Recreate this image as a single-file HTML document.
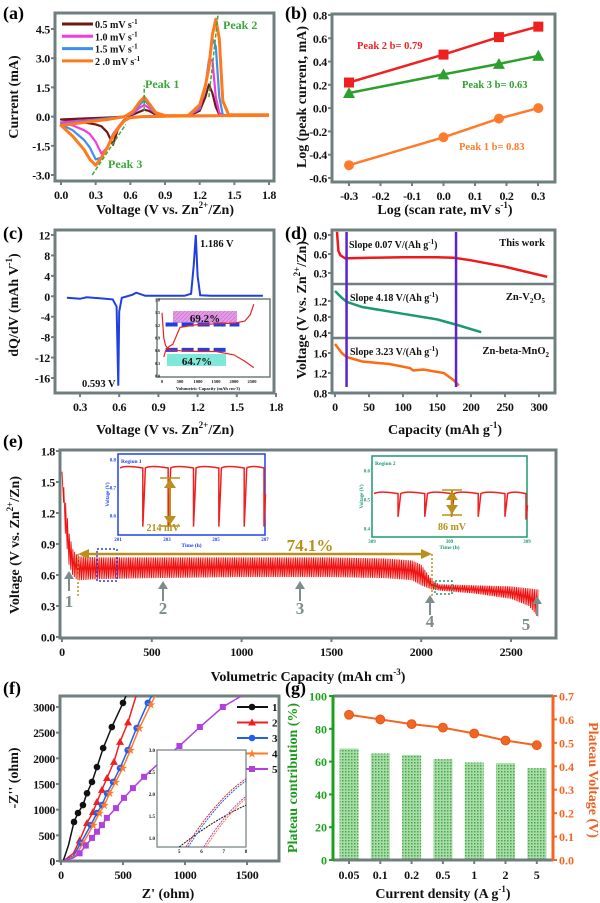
<!DOCTYPE html>
<html><head><meta charset="utf-8">
<style>
html,body{margin:0;padding:0;background:#fff;}
svg{display:block;font-family:"Liberation Serif",serif;font-weight:bold;}
</style></head>
<body>
<svg id="fig" width="600" height="903" viewBox="0 0 600 903" xmlns="http://www.w3.org/2000/svg">
<defs>
<pattern id="hatch" width="3" height="3" patternUnits="userSpaceOnUse"><rect width="3" height="3" fill="#a8dca8"/><rect width="1.5" height="1.5" fill="#4aa84a"/></pattern>
<pattern id="pinkh" width="4" height="4" patternUnits="userSpaceOnUse"><rect width="4" height="4" fill="#e59ae8"/><path d="M0 4L4 0" stroke="#c070c8" stroke-width="0.6"/></pattern>
<clipPath id="fclip"><rect x="60" y="696" width="219" height="165"/></clipPath>
</defs>
<g font-size="18">
<text x="3" y="19">(a)</text>
<text x="285" y="19">(b)</text>
<text x="3" y="239">(c)</text>
<text x="285" y="239">(d)</text>
<text x="3" y="447">(e)</text>
<text x="3" y="694">(f)</text>
<text x="285" y="694">(g)</text>
</g>
<g font-size="14" text-anchor="middle" fill="#111">
<text transform="translate(18,97) rotate(-90)">Current (mA)</text>
<text x="165" y="214">Voltage (V vs. Zn<tspan dy="-6" font-size="9">2+</tspan><tspan dy="6">/Zn)</tspan></text>
<text transform="translate(306,97) rotate(-90)">Log (peak current, mA)</text>
<text x="445" y="214">Log (scan rate, mV s<tspan dy="-6" font-size="9">-1</tspan><tspan dy="6">)</tspan></text>
<text transform="translate(18,305) rotate(-90)">dQ/dV (mAh V<tspan dy="-6" font-size="9">-1</tspan><tspan dy="6">)</tspan></text>
<text x="165" y="434">Voltage (V vs. Zn<tspan dy="-6" font-size="9">2+</tspan><tspan dy="6">/Zn)</tspan></text>
<text transform="translate(306,310) rotate(-90)">Voltage (V vs. Zn<tspan dy="-6" font-size="9">2+</tspan><tspan dy="6">/Zn)</tspan></text>
<text x="445" y="434">Capacity (mAh g<tspan dy="-6" font-size="9">-1</tspan><tspan dy="6">)</tspan></text>
<text transform="translate(19,545) rotate(-90)">Voltage (V vs. Zn<tspan dy="-6" font-size="9">2+</tspan><tspan dy="6">/Zn)</tspan></text>
<text x="308" y="681">Volumetric Capacity (mAh cm<tspan dy="-6" font-size="9">-3</tspan><tspan dy="6">)</tspan></text>
<text transform="translate(18,778) rotate(-90)">-Z'' (ohm)</text>
<text x="168" y="898">Z' (ohm)</text>
<text transform="translate(297,778) rotate(-90)" fill="#1a9a1a">Plateau contribution (%)</text>
<text transform="translate(589,780) rotate(90)" fill="#f06020">Plateau Voltage (V)</text>
<text x="443" y="898">Current density (A g<tspan dy="-6" font-size="9">-1</tspan><tspan dy="6">)</tspan></text>
</g>
</svg>
<script>
// ---------- DATA ----------
const cvVolt = [1.8,1.2,0.7,0.6,0.55,0.5,0.45,0.4,0.35,0.3,0.25,0.2,0.1,0.0, 0.0,0.2,0.4,0.55,0.62,0.68,0.72,0.76,0.82,0.9,1.1,1.2,1.25,1.28,1.31,1.34,1.37,1.4,1.45,1.8];
const cv05 = [0.05,0.03,0,-0.05,-0.15,-0.5,-1.45,-0.8,-0.5,-0.4,-0.35,-0.3,-0.2,-0.15, -0.15,-0.1,-0.05,0,0.1,0.25,0.35,0.3,0.1,0.03,0.02,0.3,1.0,1.65,1.2,0.5,0.1,0.05,0.05,0.05];
const cv10 = [0.05,0.03,0,-0.05,-0.2,-0.5,-0.9,-1.6,-1.9,-1.3,-0.9,-0.7,-0.45,-0.3, -0.3,-0.2,-0.1,0,0.15,0.45,0.6,0.45,0.15,0.03,0.03,0.4,1.5,2.9,2.9,1.0,0.2,0.05,0.05,0.05];
const cv15 = [0.05,0.03,0,-0.05,-0.2,-0.6,-1.0,-1.6,-2.1,-2.2,-1.6,-1.2,-0.7,-0.4, -0.4,-0.25,-0.1,0,0.2,0.6,0.85,0.6,0.15,0.04,0.04,0.5,1.5,2.8,4.0,3.6,1.0,0.1,0.05,0.05];
const cv20 = [0.06,0.04,0,-0.05,-0.2,-0.55,-1.0,-1.6,-2.1,-2.5,-2.2,-1.7,-1.0,-0.45, -0.45,-0.3,-0.15,0,0.25,0.75,1.0,0.7,0.2,0.05,0.05,0.6,1.6,2.5,4.2,5.0,4.0,0.8,0.1,0.1];
const cvLabels = ["0.5 mV s","1.0 mV s","1.5 mV s","2 .0 mV s"];
const aXTicks = [0,0.3,0.6,0.9,1.2,1.5,1.8];
const aYTicks = [-3,-1.5,0,1.5,3,4.5];
const bLogRate = [-0.3,0,0.176,0.301];
const bPeak2 = [0.22,0.46,0.61,0.70];
const bPeak3 = [0.13,0.29,0.38,0.45];
const bPeak1 = [-0.49,-0.25,-0.09,0.0];
const bXTicks = [-0.3,-0.2,-0.1,0,0.1,0.2,0.3];
const bYTicks = [-0.6,-0.4,-0.2,0,0.2,0.4,0.6,0.8];
const cVolt = [0.2,0.3,0.35,0.45,0.55,0.58,0.593,0.6,0.62,0.7,0.73,0.8,1.1,1.15,1.17,1.186,1.2,1.22,1.3,1.7];
const cDqdv = [-0.3,-0.5,-0.2,-0.4,-0.6,-2,-17.5,-3,-0.3,0.3,0.7,0.1,0.1,0.5,6,12,4,0.2,0.1,0.1];
const cXTicks = [0.3,0.6,0.9,1.2,1.5,1.8];
const cYTicks = [-16,-12,-8,-4,0,4,8,12];
const ciChgCap = [50,100,200,300,500,1000,2000,2300,2450,2550];
const ciChgV = [0.45,0.6,0.7,0.75,1.15,1.22,1.25,1.3,1.45,1.7];
const ciDisCap = [0,50,100,200,500,1000,1500,2000,2300,2550];
const ciDisV = [1.5,0.9,0.72,0.62,0.6,0.58,0.58,0.5,0.35,0.2];
const dCap1 = [3,5,8,15,50,100,150,175,200,250,312];
const dV1 = [0.95,0.65,0.58,0.53,0.54,0.55,0.55,0.54,0.5,0.4,0.24];
const dCap2 = [0,10,17,40,100,150,180,215];
const dV2 = [1.45,1.28,1.18,1.05,0.88,0.74,0.6,0.42];
const dCap3 = [0,10,17,40,80,110,115,130,160,175,182];
const dV3 = [1.78,1.6,1.52,1.43,1.38,1.3,1.25,1.27,1.2,1.05,0.95];
const dXTicks = [0,50,100,150,200,250,300];
const eCap = [0,20,40,60,80,100,200,500,1000,1500,1800,1950,2000,2060,2100,2300,2500,2600,2650];
const eUpper = [1.6,1.3,1.0,0.85,0.8,0.78,0.77,0.77,0.77,0.77,0.76,0.74,0.7,0.55,0.51,0.5,0.49,0.47,0.46];
const eLower = [1.6,1.0,0.7,0.6,0.56,0.55,0.56,0.57,0.58,0.58,0.57,0.55,0.5,0.46,0.45,0.42,0.37,0.3,0.2];
const eXTicks = [0,500,1000,1500,2000,2500];
const eYTicks = [0,0.3,0.6,0.9,1.2,1.5,1.8];
const r1Top = [0.77,0.77,0.77,0.77,0.77,0.77];
const r1Bot = [0.56,0.56,0.56,0.56,0.56,0.56];
const r2Top = [0.52,0.52,0.52,0.52,0.52,0.52];
const r2Bot = [0.44,0.44,0.44,0.44,0.44,0.43];
const fZr1 = [20,60,105,137,177,210,250,290,340,410,500,530];
const fZi1 = [20,300,760,935,1090,1320,1540,1830,2200,2610,3080,3250];
const fZr2 = [30,100,150,210,258,290,330,371,427,476,540,610];
const fZi2 = [20,150,400,740,955,1150,1385,1617,1930,2320,2700,3250];
const fZr3 = [30,100,160,240,290,330,371,420,476,538,610,700,740];
const fZi3 = [20,100,350,700,935,1090,1320,1540,1810,2160,2590,3080,3250];
const fZr4 = [40,115,180,260,310,350,392,440,498,560,632,725,765];
const fZi4 = [20,100,350,700,935,1090,1320,1540,1810,2160,2590,3050,3250];
const fZr5 = [30,100,150,200,250,290,330,370,443,508,580,670,800,955,1120,1305,1480];
const fZi5 = [20,60,150,300,450,570,700,840,1030,1230,1420,1640,1930,2240,2610,3000,3250];
const fXTicks = [0,500,1000,1500];
const fYTicks = [0,500,1000,1500,2000,2500,3000];
const gCats = ["0.05","0.1","0.2","0.5","1","2","5"];
const gContrib = [68,65,64,61.5,59.5,59,56];
const gVolt = [0.62,0.60,0.58,0.565,0.54,0.51,0.49];
const gYLeft = [0,20,40,60,80,100];
const gYRight = [0,0.1,0.2,0.3,0.4,0.5,0.6,0.7];

// ---------- HELPERS ----------
const NS = "http://www.w3.org/2000/svg";
const svg = document.getElementById('fig');
function mk(tag, attrs, name, parent){
  const el = document.createElementNS(NS, tag);
  
  
  for (const k in attrs) el.setAttribute(k, attrs[k]);
  (parent||svg).appendChild(el);
  return el;
}
function txt(x,y,s,size,name,extra,parent){
  const t = mk('text', Object.assign({x:x,y:y,'font-size':size}, extra||{}), name, parent);
  t.textContent = s; return t;
}
function lin(d0,d1,p0,p1){ return v => p0 + (v-d0)*(p1-p0)/(d1-d0); }
function path(xs,ys,fx,fy){ return xs.map((v,i)=>(i?'L':'M')+fx(v).toFixed(1)+' '+fy(ys[i]).toFixed(1)).join(''); }
function frame(x0,y0,x1,y1,name,col){
  mk('rect',{x:x0,y:y0,width:x1-x0,height:y1-y0,fill:'none',stroke:col||'#6f7f7f','stroke-width':3},name);
}
function fmt(v,d){ return v<0 ? '-'+Math.abs(v).toFixed(d) : v.toFixed(d); }
function yTicks(ticks,fy,x,d,name,size,col,side){
  ticks.forEach(v=>{
    const y=fy(v); const s = side==='r'?1:-1;
    mk('line',{x1:x,x2:x+s*4,y1:y,y2:y,stroke:col||'#6f7f7f','stroke-width':2},name+'-tick');
    txt(side==='r'?x+7:x-5,y+4.5,fmt(v,d),size||12,name+'-label',{'text-anchor':side==='r'?'start':'end',fill:'#111','letter-spacing':'-0.3'});
  });
}
function xTicks(ticks,fx,y,d,name,size,labels){
  ticks.forEach((v,i)=>{
    const x=fx(v);
    mk('line',{x1:x,x2:x,y1:y,y2:y+4,stroke:'#6f7f7f','stroke-width':2},name+'-tick');
    txt(x,y+18,labels?labels[i]:fmt(v,d),size||12,name+'-label',{'text-anchor':'middle',fill:'#111','letter-spacing':'-0.3'});
  });
}

// ---------- (a) ----------
(function(){
  const fx=lin(0,1.8,61,269), fy=lin(4.5,-3,29,175);
  frame(55,13,274,181,'a-plot-frame');
  xTicks(aXTicks,fx,181,1,'a-x-tick');
  yTicks(aYTicks,fy,55,1,'a-y-tick');
  const cols=['#6b1a14','#f23ce0','#3d8ff0','#ff7a1c'];
  [cv05,cv10,cv15,cv20].forEach((s,i)=>{
    mk('path',{d:path(cvVolt,s,fx,fy),fill:'none',stroke:cols[i],'stroke-width':i==3?3:2.2,'stroke-linejoin':'round'},'cv-curve-'+cvLabels[i].replace(/[ .]/g,''));
  });
  [[0.27,-3.0,0.56,-0.4],[0.72,0.3,0.72,1.6],[1.28,1.0,1.36,5.3]].forEach(l=>{
    mk('line',{x1:fx(l[0]),y1:fy(l[1]),x2:fx(l[2]),y2:fy(l[3]),stroke:'#3aa83a','stroke-width':1.5,'stroke-dasharray':'4 2'},'peak-guide-line');
  });
  txt(145,88,'Peak 1',12,'peak-1-label',{fill:'#3aa83a'});
  txt(223,29,'Peak 2',12,'peak-2-label',{fill:'#3aa83a'});
  txt(108,168,'Peak 3',12,'peak-3-label',{fill:'#3aa83a'});
  cvLabels.forEach((l,i)=>{
    const y=24+i*12.3;
    mk('line',{x1:62,x2:93,y1:y,y2:y,stroke:cols[i],'stroke-width':3},'legend-line');
    const t=txt(95,y+4,l,10,'legend-entry',{fill:'#111'});
    const sp=document.createElementNS(NS,'tspan'); sp.setAttribute('dy','-4'); sp.setAttribute('font-size','7'); sp.textContent='-1'; t.appendChild(sp);
  });
})();

// ---------- (b) ----------
(function(){
  const fx=lin(-0.3,0.3,349,538), fy=lin(0.8,-0.6,15,178);
  frame(332,14,555,182,'b-plot-frame');
  xTicks(bXTicks,fx,182,1,'b-x-tick');
  yTicks(bYTicks,fy,332,1,'b-y-tick');
  const ser=[[bPeak2,'#f02020','sq'],[bPeak3,'#2ca02c','tri'],[bPeak1,'#ff7a2a','circ']];
  ser.forEach(([ys,c,m])=>{
    mk('path',{d:path(bLogRate,ys,fx,fy),stroke:c,'stroke-width':2.5,fill:'none'},'b-fit-line');
    bLogRate.forEach((v,i)=>{
      const x=fx(v),y=fy(ys[i]);
      if(m==='sq') mk('rect',{x:x-5,y:y-5,width:10,height:10,fill:c},'b-marker-peak2');
      else if(m==='tri') mk('path',{d:`M${x} ${y-6}L${x+6} ${y+5}L${x-6} ${y+5}Z`,fill:c},'b-marker-peak3');
      else mk('circle',{cx:x,cy:y,r:5,fill:c},'b-marker-peak1');
    });
  });
  txt(357,49,'Peak 2 b= 0.79',10.5,'peak-2-slope-label',{fill:'#f02020'});
  txt(462,88,'Peak 3 b= 0.63',10.5,'peak-3-slope-label',{fill:'#2ca02c'});
  txt(459,150,'Peak 1 b= 0.83',10.5,'peak-1-slope-label',{fill:'#ff7a2a'});
})();

// ---------- (c) ----------
(function(){
  const fx=lin(0.3,1.8,80,276), fy=lin(12,-16,235,378);
  frame(55,230,274,393,'c-plot-frame');
  xTicks(cXTicks,fx,393,1,'c-x-tick');
  yTicks(cYTicks,fy,55,0,'c-y-tick');
  mk('path',{d:path(cVolt,cDqdv,fx,fy),fill:'none',stroke:'#1f3fe0','stroke-width':2},'dqdv-curve');
  txt(200,247,'1.186 V',10.5,'peak-1186-label',{fill:'#111'});
  txt(82,387,'0.593 V',10.5,'peak-0593-label',{fill:'#111'});
  const ix=lin(0,2500,162,252), iy=lin(1.8,0,300,376);
  mk('rect',{x:157,y:299,width:113,height:78,fill:'#fff',stroke:'#6f7f7f','stroke-width':1.5},'c-inset-frame');
  mk('rect',{x:173,y:311,width:64,height:12,fill:'url(#pinkh)'},'c-inset-charge-plateau-box');
  mk('rect',{x:167,y:354,width:59,height:12,fill:'#7fe8d8'},'c-inset-discharge-plateau-box');
  mk('line',{x1:ix(100),x2:ix(2150),y1:iy(1.22),y2:iy(1.22),stroke:'#1f3fe0','stroke-width':4,'stroke-dasharray':'12 4'},'c-inset-charge-dash');
  mk('line',{x1:ix(100),x2:ix(1800),y1:iy(0.62),y2:iy(0.62),stroke:'#1f3fe0','stroke-width':4,'stroke-dasharray':'12 4'},'c-inset-discharge-dash');
  mk('path',{d:path(ciChgCap,ciChgV,ix,iy),fill:'none',stroke:'#f02020','stroke-width':1.2},'c-inset-charge-curve');
  mk('path',{d:path(ciDisCap,ciDisV,ix,iy),fill:'none',stroke:'#f02020','stroke-width':1.2},'c-inset-discharge-curve');
  txt(205,322,'69.2%',11,'c-inset-69pct',{'text-anchor':'middle',fill:'#111'});
  txt(197,365,'64.7%',11,'c-inset-64pct',{'text-anchor':'middle',fill:'#111'});
  [0,500,1000,1500,2000,2500].forEach(v=>txt(ix(v),383,String(v),4.5,'c-inset-x-label',{'text-anchor':'middle',fill:'#111'}));
  [0,0.3,0.6,0.9,1.2,1.5,1.8].forEach(v=>txt(160,iy(v)+1.5,v.toFixed(1),4,'c-inset-y-label',{'text-anchor':'end',fill:'#111'}));
  txt(208,390,'Volumetric Capacity (mAh cm-3)',4.5,'c-inset-x-title',{'text-anchor':'middle',fill:'#111'});
})();

// ---------- (d) ----------
(function(){
  const fx=lin(0,300,335,539);
  frame(332,230,555,393,'d-plot-frame');
  mk('line',{x1:332,x2:555,y1:284,y2:284,stroke:'#6f7f7f','stroke-width':2.5},'d-divider');
  mk('line',{x1:332,x2:555,y1:338,y2:338,stroke:'#6f7f7f','stroke-width':2.5},'d-divider');
  const fy1=lin(0.9,0.3,235,273), fy2=lin(1.2,0.4,301,333), fy3=lin(1.6,0.8,353,393);
  yTicks([0.3,0.6,0.9],fy1,332,1,'d-y-tick',11.5);
  yTicks([0.4,0.8,1.2],fy2,332,1,'d-y-tick',11.5);
  yTicks([0.8,1.2,1.6],fy3,332,1,'d-y-tick',11.5);
  xTicks(dXTicks,fx,393,0,'d-x-tick');
  mk('path',{d:path(dCap1,dV1,fx,fy1),fill:'none',stroke:'#f01818','stroke-width':2.5},'d-this-work-curve');
  mk('path',{d:path(dCap2,dV2,fx,fy2),fill:'none',stroke:'#1a9a70','stroke-width':2.5},'d-zn-v2o5-curve');
  mk('path',{d:path(dCap3,dV3,fx,fy3),fill:'none',stroke:'#ff6a10','stroke-width':2.5},'d-zn-mno2-curve');
  [17,178].forEach(v=>mk('line',{x1:fx(v),x2:fx(v),y1:232,y2:387,stroke:'#5a22d0','stroke-width':2.5},'d-slope-marker-line'));
  txt(349,248,'Slope 0.07 V/(Ah g',10,'d-slope-label-1',{fill:'#111'}).insertAdjacentHTML('beforeend','<tspan dy="-4" font-size="7">-1</tspan><tspan dy="4">)</tspan>');
  txt(350,301,'Slope 4.18 V/(Ah g',10,'d-slope-label-2',{fill:'#111'}).insertAdjacentHTML('beforeend','<tspan dy="-4" font-size="7">-1</tspan><tspan dy="4">)</tspan>');
  txt(350,355,'Slope 3.23 V/(Ah g',10,'d-slope-label-3',{fill:'#111'}).insertAdjacentHTML('beforeend','<tspan dy="-4" font-size="7">-1</tspan><tspan dy="4">)</tspan>');
  txt(545,246,'This work',10.5,'d-label-this-work',{'text-anchor':'end',fill:'#111'});
  txt(545,300,'Zn-V',10.5,'d-label-zn-v2o5',{'text-anchor':'end',fill:'#111'}).insertAdjacentHTML('beforeend','<tspan dy="3" font-size="7">2</tspan><tspan dy="-3">O</tspan><tspan dy="3" font-size="7">5</tspan>');
  txt(549,354,'Zn-beta-MnO',10.5,'d-label-zn-mno2',{'text-anchor':'end',fill:'#111'}).insertAdjacentHTML('beforeend','<tspan dy="3" font-size="7">2</tspan>');
})();

// ---------- (e) ----------
(function(){
  const fx=lin(0,2500,62,511), fy=lin(1.8,0,451,637);
  frame(60,450,556,638,'e-plot-frame');
  xTicks(eXTicks,fx,638,0,'e-x-tick');
  yTicks(eYTicks,fy,60,1,'e-y-tick');
  function interp(xs,ys,v){ for(let i=1;i<xs.length;i++){ if(v<=xs[i]) return ys[i-1]+(ys[i]-ys[i-1])*(v-xs[i-1])/(xs[i]-xs[i-1]); } return ys[ys.length-1]; }
  let d='M'+fx(0)+' '+fy(eUpper[0]);
  const last=eCap[eCap.length-1];
  for(let c=0;c<last;c+=10){
    const c2=Math.min(c+10,last);
    d+='L'+fx(c2-1).toFixed(1)+' '+fy(interp(eCap,eLower,c2)).toFixed(1);
    d+='L'+fx(c2).toFixed(1)+' '+fy(interp(eCap,eUpper,c2)).toFixed(1);
  }
  mk('path',{d:d,fill:'none',stroke:'#f01010','stroke-width':0.9},'e-cycling-curve');
  mk('rect',{x:97,y:549,width:20,height:32,fill:'none',stroke:'#2040f0','stroke-width':1.5,'stroke-dasharray':'2 2'},'region-1-marker-box');
  mk('rect',{x:435,y:581,width:17,height:13,fill:'none',stroke:'#1a9a70','stroke-width':1.5,'stroke-dasharray':'2 2'},'region-2-marker-box');
  const gold='#b8901a';
  mk('line',{x1:84,x2:425,y1:554,y2:554,stroke:gold,'stroke-width':2.5},'plateau-span-arrow');
  mk('path',{d:'M78 554L89 549L89 559Z',fill:gold},'arrow-head-left');
  mk('path',{d:'M432 554L421 549L421 559Z',fill:gold},'arrow-head-right');
  mk('line',{x1:78,x2:78,y1:554,y2:598,stroke:gold,'stroke-width':1.5,'stroke-dasharray':'2 2'},'plateau-start-line');
  mk('line',{x1:432,x2:432,y1:554,y2:598,stroke:gold,'stroke-width':1.5,'stroke-dasharray':'2 2'},'plateau-end-line');
  txt(310,551,'74.1%',17,'plateau-percent-label',{'text-anchor':'middle',fill:gold});
  [[69,571,'1',607],[163,581,'2',614],[300,581,'3',614],[430,595,'4',627],[537,596,'5',630]].forEach(a=>{
    mk('line',{x1:a[0],x2:a[0],y1:a[1]+4,y2:a[1]+20,stroke:'#7f8c8c','stroke-width':2},'state-arrow-'+a[2]);
    mk('path',{d:`M${a[0]} ${a[1]}L${a[0]+5} ${a[1]+8}L${a[0]-5} ${a[1]+8}Z`,fill:'#7f8c8c'},'state-arrow-head-'+a[2]);
    txt(a[2]==='5'?a[0]-11:a[0],a[3],a[2],17,'state-label-'+a[2],{'text-anchor':'middle',fill:'#7f8c8c'});
  });
  function inset(x0,y0,x1,y1,col,top,bot,ylo,yhi,ticks,name,xl){
    mk('rect',{x:x0,y:y0,width:x1-x0,height:y1-y0,fill:'#fff',stroke:col,'stroke-width':1.5},name+'-frame');
    const iy=lin(yhi,ylo,y0,y1); const n=top.length; const w=(x1-x0)/(n-0.2);
    let d='';
    top.forEach((t,i)=>{
      const xs=x0+2+i*w;
      d+=(i?'L':'M')+xs+' '+iy(t)+' ';
      const xe=Math.min(xs+w*0.9,x1-1);
      d+='Q'+(xs+w*0.2)+' '+(iy(t)-3)+' '+xe+' '+iy(t)+' ';
      d+='L'+xe+' '+iy(bot[i])+' L'+(xe+1.5)+' '+iy(t+(bot[i]-t)*0.45);
    });
    mk('path',{d:d,fill:'none',stroke:'#f02020','stroke-width':1.5},name+'-curve');
    ticks.forEach(v=>txt(x0-2,iy(v)+2,v.toFixed(1),5,name+'-y-label',{'text-anchor':'end',fill:col}));
    xl.forEach((s,i)=>txt(x0+i*(x1-x0)/(xl.length-1),y1+6,s,5,name+'-x-label',{'text-anchor':'middle',fill:col}));
    txt((x0+x1)/2,y1+12,'Time (h)',5.5,name+'-x-title',{'text-anchor':'middle',fill:col});
    txt(x0-9,(y0+y1)/2,'Voltage (V)',5,name+'-y-title',{'text-anchor':'middle',fill:col,transform:`rotate(-90 ${x0-9} ${(y0+y1)/2})`});
  }
  inset(118,454,265,535,'#2040f0',r1Top,r1Bot,0.53,0.82,[0.6,0.7,0.8],'region-1-inset',['201','','203','','205','','207']);
  txt(121,463,'Region 1',5.5,'region-1-title',{fill:'#2040f0'});
  inset(372,456,527,537,'#1a9a70',r2Top,r2Bot,0.37,0.65,[0.4,0.5,0.6],'region-2-inset',['309','','309','','309']);
  txt(375,465,'Region 2',5.5,'region-2-title',{fill:'#1a9a70'});
  [[170,478,526,'214 mV',163,531],[452,490,515,'86 mV',452,530]].forEach(m=>{
    mk('line',{x1:m[0]-10,x2:m[0]+10,y1:m[1],y2:m[1],stroke:gold,'stroke-width':1.5},'gap-cap');
    mk('line',{x1:m[0]-10,x2:m[0]+10,y1:m[2],y2:m[2],stroke:gold,'stroke-width':1.5},'gap-cap');
    mk('line',{x1:m[0],x2:m[0],y1:m[1],y2:m[2],stroke:gold,'stroke-width':2},'gap-arrow');
    mk('path',{d:`M${m[0]} ${m[1]+1}L${m[0]+6} ${m[1]+10}L${m[0]-6} ${m[1]+10}Z`,fill:gold},'gap-arrow-head');
    mk('path',{d:`M${m[0]} ${m[2]-1}L${m[0]+6} ${m[2]-10}L${m[0]-6} ${m[2]-10}Z`,fill:gold},'gap-arrow-head');
    txt(m[4],m[5],m[3],10,'gap-label',{'text-anchor':'middle',fill:gold});
  });
})();

// ---------- (f) ----------
(function(){
  const fx=lin(0,1000,61,185), fy=lin(0,3000,861,707);
  frame(60,696,279,861,'f-plot-frame');
  xTicks(fXTicks,fx,861,0,'f-x-tick');
  yTicks(fYTicks,fy,60,0,'f-y-tick',11.5);
  const g=mk('g',{'clip-path':'url(#fclip)'},'f-series-group');
  const ser=[[fZr1,fZi1,'#111','circ','1'],[fZr2,fZi2,'#f02020','tri','2'],[fZr3,fZi3,'#2060f0','circ','3'],[fZr4,fZi4,'#ff7a2a','star','4'],[fZr5,fZi5,'#b040e0','sq','5']];
  function marker(x,y,c,m,name,p){
    if(m==='circ') mk('circle',{cx:x,cy:y,r:3.3,fill:c},name,p);
    else if(m==='tri') mk('path',{d:`M${x} ${y-4}L${x+4} ${y+3}L${x-4} ${y+3}Z`,fill:c},name,p);
    else if(m==='sq') mk('rect',{x:x-3,y:y-3,width:6,height:6,fill:c},name,p);
    else mk('text',{x:x,y:y+3.5,'font-size':10,'text-anchor':'middle',fill:c},name,p).textContent='★';
  }
  ser.forEach(([xs,ys,c,m,lab])=>{
    mk('path',{d:path(xs,ys,fx,fy),fill:'none',stroke:c,'stroke-width':1.5},'nyquist-curve-'+lab,g);
    xs.forEach((v,i)=>{ if(i>1 && ys[i]<3150) marker(fx(v),fy(ys[i]),c,m,'nyquist-point-'+lab,g); });
  });
  ser.forEach(([xs,ys,c,m,lab],i)=>{
    const y=707+i*15.5;
    mk('rect',{x:235,y:y-7,width:42,height:14,fill:'#fff'},'f-legend-bg');
    mk('line',{x1:237,x2:268,y1:y,y2:y,stroke:c,'stroke-width':2},'f-legend-line');
    marker(252,y,c,m,'f-legend-marker');
    txt(272,y+4,lab,11,'f-legend-entry',{fill:'#111'});
  });
  mk('rect',{x:157,y:750,width:89,height:97,fill:'#fff',stroke:'#6f7f7f','stroke-width':1.2},'f-inset-frame');
  const ix=lin(4,8,157,246), iy=lin(3,0.8,750,847);
  [[5,0.8,8,1.75,'#111'],[5.3,0.8,8,2.35,'#f02020'],[5.4,0.8,8,2.3,'#2060f0'],[6.1,0.8,8,1.95,'#b040e0'],[6.2,0.8,8,1.9,'#ff7a2a']].forEach(s=>{
    mk('path',{d:`M${ix(s[0])} ${iy(s[1])}Q${ix((s[0]+8)/2)} ${iy(s[3]*0.8)} ${ix(s[2])} ${iy(s[3])}`,fill:'none',stroke:s[4],'stroke-width':1,'stroke-dasharray':'2 1'},'f-inset-curve');
  });
  [5,6,7,8].forEach(v=>txt(ix(v),853,String(v),5,'f-inset-x-label',{'text-anchor':'middle',fill:'#111'}));
  [1.0,1.5,2.0,2.5,3.0].forEach(v=>txt(155,iy(v)+2,v.toFixed(1),5,'f-inset-y-label',{'text-anchor':'end',fill:'#111'}));
})();

// ---------- (g) ----------
(function(){
  const fx=i=>349+i*31.3, fyL=lin(0,100,860,696), fyR=lin(0,0.7,860,696);
  gContrib.forEach((v,i)=>mk('rect',{x:fx(i)-9.5,y:fyL(v),width:19,height:860-fyL(v),fill:'url(#hatch)'},'bar-'+gCats[i]));
  mk('line',{x1:333,x2:553,y1:696,y2:696,stroke:'#6f7f7f','stroke-width':3},'g-top-axis');
  mk('line',{x1:333,x2:553,y1:860,y2:860,stroke:'#6f7f7f','stroke-width':3},'g-bottom-axis');
  mk('line',{x1:333,x2:333,y1:695,y2:861,stroke:'#1ea01e','stroke-width':3},'g-left-axis');
  mk('line',{x1:553,x2:553,y1:695,y2:861,stroke:'#f26522','stroke-width':3},'g-right-axis');
  gYLeft.forEach(v=>{ const y=fyL(v);
    mk('line',{x1:329,x2:333,y1:y,y2:y,stroke:'#1ea01e','stroke-width':2},'g-left-tick');
    txt(327,y+4.5,String(v),12,'g-left-tick-label',{'text-anchor':'end',fill:'#1ea01e'}); });
  gYRight.forEach(v=>{ const y=fyR(v);
    mk('line',{x1:553,x2:557,y1:y,y2:y,stroke:'#f26522','stroke-width':2},'g-right-tick');
    txt(559,y+4.5,v.toFixed(1),12,'g-right-tick-label',{fill:'#f26522'}); });
  gCats.forEach((c,i)=>{ mk('line',{x1:fx(i),x2:fx(i),y1:860,y2:864,stroke:'#6f7f7f','stroke-width':2},'g-x-tick');
    txt(fx(i),879,c,12,'g-x-tick-label',{'text-anchor':'middle',fill:'#111'}); });
  mk('path',{d:path(gVolt.map((v,i)=>i),gVolt,fx,fyR),fill:'none',stroke:'#f26522','stroke-width':2},'plateau-voltage-line');
  gVolt.forEach((v,i)=>mk('circle',{cx:fx(i),cy:fyR(v),r:4.5,fill:'#f26522',stroke:'#e05010','stroke-width':0.8},'plateau-voltage-point-'+gCats[i]));
})();
</script>
</body></html>
